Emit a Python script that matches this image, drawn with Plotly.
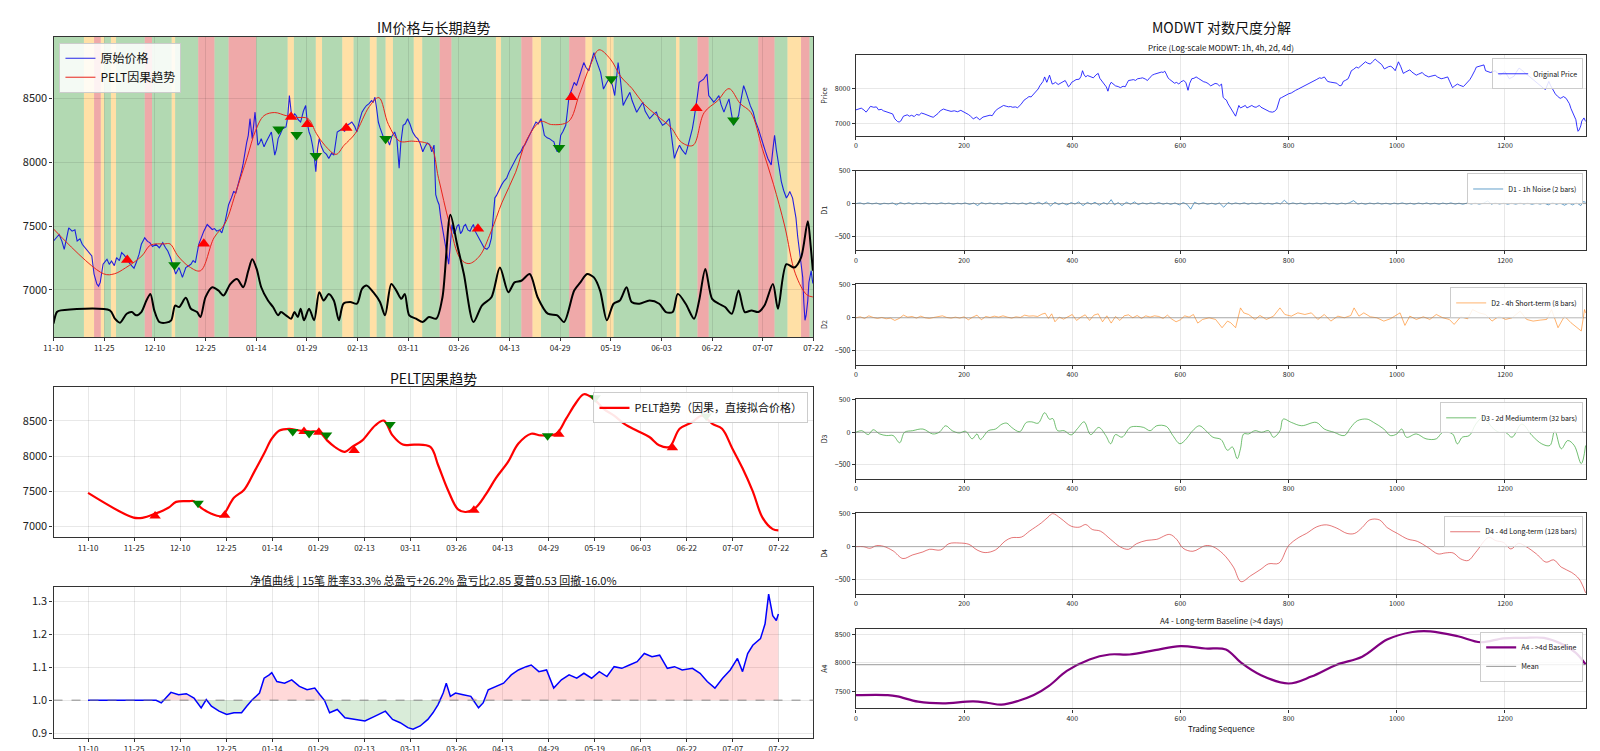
import numpy as np
import plotly.graph_objects as go

W, H = 1600, 751
FONT = "Noto Sans CJK SC"

# ---- x axis labels (trading index -> date) ----
date_ticks = [0, 90, 180, 270, 360, 450, 540, 630, 720, 810, 900, 990, 1080, 1170, 1260, 1350]
date_labels = ["11-10", "11-25", "12-10", "12-25", "01-14", "01-29", "02-13", "03-11",
               "03-26", "04-13", "04-29", "05-19", "06-03", "06-22", "07-07", "07-22"]

# ---- raw price ----
price_idx = [0, 5, 10, 15, 19, 23, 27, 33, 38, 42, 47, 51, 56, 60, 64, 68, 72, 77, 80, 83, 88, 92, 95, 99,
             103, 108, 112, 117, 121, 126, 130, 135, 139, 143, 147, 152, 156, 162, 167, 171, 176, 182, 188,
             194, 199, 203, 208, 212, 217, 223, 229, 235, 240, 244, 248, 252, 258, 263, 267, 273, 278, 282,
             286, 290, 295, 299, 305, 311, 316, 320, 324, 328, 334, 337, 340, 343, 346, 349, 353, 358, 363,
             366, 369, 374, 378, 383, 387, 390, 393, 396, 399, 403, 407, 413, 416, 419, 422, 425, 428, 431,
             435, 439, 444, 448, 451, 454, 457, 460, 463, 466, 469, 472, 476, 480, 485, 489, 494, 498, 501,
             504, 509, 513, 517, 521, 526, 530, 535, 539, 544, 548, 552, 556, 561, 565, 568, 571, 574, 577,
             580, 583, 586, 589, 593, 597, 601, 606, 610, 614, 617, 621, 625, 629, 633, 638, 643, 647, 651,
             656, 660, 664, 668, 672, 676, 679, 682, 685, 688, 691, 694, 697, 700, 702, 705, 708, 711, 714,
             717, 720, 723, 726, 729, 732, 736, 740, 743, 746, 749, 752, 756, 761, 765, 770, 774, 778, 781,
             784, 787, 790, 793, 796, 800, 805, 809, 813, 818, 822, 825, 830, 834, 837, 841, 846, 851, 857,
             861, 866, 869, 872, 877, 881, 885, 889, 892, 895, 898, 901, 905, 910, 913, 916, 920, 925, 929,
             933, 937, 942, 946, 951, 955, 960, 964, 968, 972, 977, 982, 985, 989, 993, 997, 1000, 1003,
             1007, 1012, 1016, 1020, 1024, 1028, 1032, 1036, 1040, 1044, 1047, 1051, 1055, 1059, 1063, 1067,
             1071, 1075, 1079, 1082, 1086, 1090, 1094, 1098, 1103, 1107, 1112, 1116, 1120, 1123, 1126, 1130,
             1135, 1138, 1141, 1144, 1147, 1151, 1155, 1158, 1161, 1164, 1168, 1173, 1177, 1182, 1186, 1191,
             1195, 1200, 1204, 1208, 1212, 1217, 1221, 1226, 1230, 1234, 1238, 1243, 1247, 1252, 1256, 1261,
             1265, 1269, 1272, 1275, 1278, 1281, 1284, 1287, 1290, 1293, 1297, 1302, 1305, 1308, 1311, 1313,
             1316, 1319, 1322, 1325, 1328, 1331, 1333, 1335, 1337, 1340, 1342, 1344, 1346, 1348, 1349]
price_val = [7383, 7410, 7434, 7380, 7318, 7400, 7486, 7460, 7470, 7383, 7400, 7357, 7330, 7305, 7290, 7266,
             7124, 7046, 7030, 7059, 7201, 7220, 7240, 7200, 7227, 7190, 7253, 7230, 7292, 7270, 7240, 7210,
             7189, 7170, 7214, 7280, 7357, 7408, 7380, 7370, 7340, 7357, 7330, 7370, 7330, 7305, 7250, 7201,
             7124, 7175, 7098, 7175, 7190, 7201, 7230, 7214, 7357, 7420, 7460, 7512, 7490, 7473, 7480, 7460,
             7470, 7447, 7538, 7667, 7720, 7770, 7760, 7822, 7926, 7990, 8081, 8150, 8210, 8340, 8184, 8391,
             8133, 8150, 8184, 8120, 8159, 8200, 8236, 8150, 8055, 8100, 8184, 8220, 8262, 8275, 8350, 8521,
             8400, 8340, 8380, 8365, 8330, 8314, 8400, 8443, 8300, 8236, 8200, 8133, 8050, 7926, 8100, 8184,
             8120, 8081, 8060, 8029, 8070, 8055, 8150, 8236, 8250, 8262, 8240, 8288, 8300, 8314, 8280, 8236,
             8330, 8391, 8420, 8443, 8460, 8482, 8470, 8508, 8420, 8314, 8270, 8236, 8200, 8159, 8180, 8133,
             8200, 8236, 8180, 7952, 8150, 8288, 8300, 8340, 8300, 8236, 8200, 8184, 8150, 8081, 8120, 8150,
             8140, 8081, 8133, 7745, 7700, 7667, 7560, 7486, 7420, 7357, 7280, 7201, 7357, 7512, 7440, 7460,
             7500, 7512, 7440, 7460, 7500, 7512, 7470, 7460, 7490, 7512, 7460, 7434, 7400, 7357, 7330, 7318,
             7340, 7408, 7600, 7719, 7740, 7770, 7790, 7822, 7850, 7874, 7920, 7952, 7990, 8020, 8055, 8080,
             8120, 8133, 8170, 8210, 8260, 8314, 8300, 8340, 8280, 8210, 8190, 8184, 8170, 8159, 8110, 8081,
             8100, 8210, 8240, 8288, 8400, 8521, 8560, 8624, 8600, 8650, 8700, 8779, 8740, 8714, 8780, 8857,
             8800, 8753, 8700, 8572, 8620, 8640, 8650, 8600, 8521, 8650, 8779, 8650, 8443, 8480, 8520, 8546,
             8480, 8430, 8391, 8420, 8450, 8469, 8400, 8370, 8340, 8360, 8380, 8391, 8340, 8310, 8288, 8300,
             8320, 8340, 8200, 8029, 8080, 8133, 8100, 8081, 8060, 8107, 8170, 8262, 8340, 8417, 8520, 8624,
             8640, 8650, 8670, 8689, 8521, 8500, 8469, 8490, 8521, 8450, 8391, 8440, 8495, 8390, 8288, 8320,
             8365, 8480, 8598, 8550, 8495, 8440, 8391, 8320, 8262, 8200, 8133, 8080, 8029, 8000, 7978, 8100,
             8210, 8100, 8003, 7920, 7848, 7780, 7719, 7740, 7770, 7740, 7719, 7640, 7564, 7420, 7305, 7200,
             7098, 6900, 6762, 6800, 6917, 7060, 7120, 7150, 7080, 7050]

# ---- PELT causal trend ----
trend_idx = [0, 89, 108, 128, 157, 172, 197, 207, 221, 241, 261, 285, 305, 325, 344, 359, 374, 393, 413,
             433, 452, 467, 482, 502, 516, 536, 561, 578, 595, 615, 639, 669, 684, 703, 723, 738, 757, 777,
             797, 821, 841, 866, 885, 915, 934, 954, 969, 989, 1008, 1028, 1048, 1072, 1097, 1116, 1136,
             1156, 1180, 1200, 1220, 1239, 1259, 1279, 1299, 1318, 1338, 1349]
trend_val = [7477, 7126, 7126, 7173, 7266, 7350, 7360, 7360, 7266, 7182, 7150, 7407, 7523, 7780, 8037,
             8248, 8364, 8388, 8364, 8350, 8341, 8224, 8131, 8061, 8131, 8224, 8435, 8505, 8294, 8164,
             8164, 8131, 7874, 7523, 7243, 7206, 7266, 7453, 7687, 7921, 8178, 8318, 8294, 8318, 8528,
             8762, 8879, 8808, 8668, 8575, 8458, 8364, 8271, 8154, 8131, 8388, 8481, 8575, 8458, 8388,
             8108, 7827, 7500, 7126, 6963, 6945]

# ---- trade signals: 1 = long (red up), -1 = short (green down) ----
sig_idx = [131, 215, 267, 400, 422, 432, 451, 466, 520, 590, 754, 898, 920, 991, 1142, 1208]
sig_dir = [1, -1, 1, -1, 1, -1, 1, -1, 1, -1, 1, -1, 1, -1, 1, -1]
sig_price = [7234, 7196, 7362, 8257, 8353, 8215, 8296, 8050, 8267, 8184, 7478, 8112, 8508, 8650, 8422, 8327]
sig_trend = [7150, 7330, 7160, 8350, 8350, 8320, 8340, 8300, 8080, 8450, 7230, 8290, 8310, 8830, 8120, 8570]

# ---- regime oscillator (black line, in price units) ----
osc_idx = [0, 6, 13, 100, 109, 118, 130, 139, 147, 156, 165, 172, 179, 188, 200, 209, 216, 223, 235, 244,
           255, 261, 270, 282, 293, 302, 314, 326, 337, 346, 353, 361, 369, 381, 390, 399, 404, 413, 422,
           428, 434, 439, 445, 454, 463, 472, 480, 489, 498, 507, 515, 527, 539, 548, 556, 568, 580, 589,
           600, 609, 618, 624, 632, 644, 656, 667, 680, 691, 705, 717, 729, 746, 761, 778, 793, 808, 819,
           831, 846, 860, 878, 895, 907, 925, 936, 948, 960, 971, 983, 995, 1006, 1018, 1027, 1041, 1059,
           1076, 1088, 1100, 1109, 1123, 1138, 1147, 1158, 1170, 1182, 1193, 1205, 1217, 1228, 1240, 1252,
           1263, 1278, 1287, 1302, 1316, 1328, 1340, 1345, 1349]
osc_val = [6736, 6827, 6840, 6840, 6775, 6744, 6814, 6827, 6801, 6827, 6917, 6969, 6840, 6749, 6744, 6762,
           6878, 6866, 6938, 6853, 6827, 6788, 6943, 7021, 6995, 6956, 7046, 7085, 7021, 7150, 7240, 7163,
           7021, 6917, 6866, 6801, 6827, 6801, 6775, 6827, 6788, 6853, 6762, 6853, 6762, 6982, 6917, 6969,
           6917, 6762, 6892, 6905, 6892, 7008, 7034, 6982, 6905, 6801, 7046, 6995, 6930, 6969, 6801, 6775,
           6749, 6788, 6775, 6943, 7589, 7357, 7124, 6749, 6878, 6943, 7175, 6982, 7059, 7072, 7124, 6943,
           6814, 6801, 6749, 6995, 7059, 7124, 7098, 6995, 6762, 6892, 6917, 7021, 6905, 6892, 6917, 6892,
           6827, 6827, 6969, 6892, 6775, 6917, 7163, 6930, 6892, 6866, 6814, 6995, 6827, 6840, 6827, 6878,
           7046, 6853, 7201, 7175, 7253, 7538, 7350, 7150]

# ---- regime bands: 0 = trend up (green), 1 = range (orange), 2 = trend down (red) ----
band_start = [0, 54, 72, 84, 90, 102, 111, 162, 175, 210, 216, 257, 286, 311, 360, 416, 427, 466, 477, 513,
              533, 562, 574, 590, 603, 640, 655, 686, 707, 786, 795, 831, 851, 866, 916, 945, 957, 983, 995,
              1106, 1112, 1144, 1164, 1252, 1281, 1304, 1328, 1343]
band_end = [54, 72, 84, 90, 102, 111, 162, 175, 210, 216, 257, 286, 311, 360, 416, 427, 466, 477, 513, 533,
            562, 574, 590, 603, 640, 655, 686, 707, 786, 795, 831, 851, 866, 916, 945, 957, 983, 995, 1106,
            1112, 1144, 1164, 1252, 1281, 1304, 1328, 1343, 1350]
band_regime = [0, 1, 2, 1, 0, 1, 0, 2, 0, 1, 0, 2, 0, 2, 0, 1, 0, 1, 0, 1, 0, 1, 0, 1, 0, 1, 0, 2, 0, 1, 0, 2,
               1, 0, 2, 1, 0, 1, 0, 1, 0, 2, 0, 2, 0, 1, 2, 0]

# ---- equity curve ----
eq_idx = [0, 133, 143, 152, 162, 177, 192, 207, 221, 231, 241, 256, 271, 285, 300, 310, 320, 335, 344, 354,
          359, 369, 384, 398, 413, 428, 443, 453, 462, 472, 487, 502, 521, 541, 561, 581, 595, 610, 625, 635,
          649, 664, 674, 684, 694, 700, 708, 718, 733, 748, 763, 772, 782, 797, 812, 827, 841, 856, 866, 881,
          896, 910, 925, 940, 955, 969, 984, 999, 1014, 1028, 1043, 1058, 1073, 1087, 1102, 1117, 1132, 1146,
          1161, 1181, 1196, 1210, 1225, 1240, 1255, 1269, 1279, 1289, 1299, 1314, 1323, 1330, 1338, 1345, 1349]
eq_val = [1.000, 1.000, 0.992, 1.007, 1.024, 1.017, 1.020, 1.007, 0.977, 1.002, 0.982, 0.967, 0.957, 0.962,
          0.962, 0.982, 1.000, 1.022, 1.067, 1.077, 1.084, 1.057, 1.052, 1.062, 1.042, 1.032, 1.037, 1.017,
          1.000, 0.962, 0.972, 0.947, 0.942, 0.937, 0.952, 0.967, 0.942, 0.932, 0.917, 0.912, 0.922, 0.942,
          0.962, 0.987, 1.022, 1.052, 1.012, 1.022, 1.017, 1.012, 0.977, 0.992, 1.032, 1.042, 1.052, 1.077,
          1.092, 1.102, 1.107, 1.087, 1.092, 1.037, 1.062, 1.077, 1.067, 1.082, 1.067, 1.087, 1.072, 1.102,
          1.097, 1.107, 1.117, 1.142, 1.132, 1.137, 1.097, 1.102, 1.092, 1.097, 1.082, 1.057, 1.037, 1.067,
          1.092, 1.127, 1.087, 1.142, 1.167, 1.187, 1.232, 1.322, 1.257, 1.242, 1.262]
equity_title = "净值曲线 | 15笔 胜率33.3% 总盈亏+26.2% 盈亏比2.85 夏普0.53 回撤-16.0%"

# ---- MODWT details ----
d1_idx = [0, 8, 15, 22, 30, 38, 45, 52, 60, 68, 75, 82, 90, 98, 105, 112, 120, 128, 135, 142, 150, 158, 165,
          172, 180, 188, 195, 202, 210, 218, 225, 232, 240, 248, 255, 262, 270, 278, 285, 292, 300, 308, 315,
          322, 330, 338, 345, 352, 360, 368, 375, 382, 390, 398, 405, 412, 420, 428, 435, 442, 450, 458, 465,
          472, 478, 485, 492, 500, 508, 515, 522, 530, 538, 545, 552, 560, 568, 575, 582, 590, 598, 605, 612,
          619, 626, 634, 642, 650, 658, 665, 672, 680, 688, 695, 702, 710, 718, 725, 732, 740, 748, 755, 762,
          770, 778, 785, 792, 800, 808, 815, 822, 830, 838, 845, 852, 860, 868, 875, 882, 890, 898, 905, 912,
          920, 928, 935, 942, 950, 958, 965, 972, 980, 988, 995, 1002, 1010, 1018, 1025, 1032, 1040, 1048,
          1055, 1062, 1070, 1078, 1085, 1092, 1100, 1108, 1115, 1122, 1130, 1138, 1145, 1152, 1160, 1168,
          1175, 1182, 1190, 1198, 1205, 1212, 1220, 1228, 1235, 1242, 1250, 1258, 1265, 1272, 1280, 1288,
          1295, 1302, 1310, 1318, 1325, 1332, 1340, 1345, 1349]
d1_val = [0, 10, -8, 12, -5, 8, -12, 6, -4, 10, -20, 15, -6, 12, -10, 8, -4, 10, -8, 5, -6, 12, -4, 8, -10,
          6, -5, 10, -12, 8, -30, 15, -6, 10, -8, 6, -10, 12, -5, 8, -6, 10, -12, 15, -8, 20, -10, 25, -35, 20,
          -15, 10, -20, 15, -8, 25, -30, 18, -10, 20, -25, 15, -12, 60, -20, 15, -30, 20, -10, 25, -15, 10, -8,
          12, -6, 15, -10, 8, -12, 10, -20, 15, -10, -85, 20, -8, 12, -10, 6, -12, 10, -55, 15, -8, 10, -6, 12,
          -10, 8, -5, 10, -8, 6, -10, 12, -6, 50, -8, 10, -6, 8, -10, 6, -5, 8, -6, 10, -8, 6, -10, 8, -6, 10,
          45, -8, 6, -10, 8, -6, 10, -8, 6, -10, 8, -6, 10, -8, 6, -10, 8, -6, 10, -8, 6, -10, 8, -6, 10, -8, 6,
          -10, 8, -6, 10, -8, 6, 40, -8, 10, -6, 8, -10, 6, -8, 10, -6, 8, -10, 6, -8, 10, -20, 15, -10, 8, -25,
          10, -20, 15, -30, 30, 20]

d2_idx = [0, 8, 16, 24, 32, 40, 48, 56, 64, 72, 80, 88, 96, 104, 112, 120, 128, 136, 144, 152, 160, 168, 176,
          184, 192, 200, 208, 216, 224, 232, 240, 248, 256, 264, 272, 280, 288, 296, 304, 312, 320, 328, 336,
          344, 350, 356, 362, 368, 376, 384, 392, 400, 408, 416, 424, 432, 440, 448, 456, 464, 472, 480, 488,
          496, 504, 512, 520, 528, 536, 544, 552, 560, 568, 576, 584, 592, 600, 608, 616, 624, 632, 641, 653,
          665, 677, 687, 693, 702, 711, 717, 726, 738, 747, 759, 772, 784, 793, 805, 817, 830, 842, 854, 866,
          878, 891, 903, 915, 921, 930, 939, 951, 963, 976, 988, 1006, 1015, 1024, 1036, 1049, 1061, 1073,
          1085, 1097, 1106, 1118, 1131, 1140, 1152, 1164, 1176, 1189, 1201, 1213, 1228, 1240, 1252, 1265,
          1277, 1286, 1298, 1310, 1322, 1341, 1347, 1349]
d2_val = [0, 15, -10, 30, 5, -10, 5, -15, -5, -40, -10, 40, 10, 20, -5, 25, 0, -10, 5, 15, 30, 5, -5, 10, -5,
          15, -30, 10, 40, -30, 20, 5, 25, 10, 30, 10, -5, 15, 5, 40, 25, 30, 20, 55, 70, -10, 60, -60, 10, -20,
          20, 50, -40, 10, 45, -40, 40, 60, -60, 30, -80, 20, -40, 30, 45, 0, 35, -10, 30, 10, 30, 20, -10, 40,
          -20, -60, -30, 30, 10, 50, -80, -25, 0, -25, -150, -50, -75, -150, 150, 75, 50, -25, 35, -25, 25, 150,
          50, 25, 75, 50, 75, -25, 50, -50, 25, 0, 35, 150, 25, 75, 15, 0, -50, -15, 75, -115, 25, -25, 15, -25,
          50, 0, -25, -100, 15, -15, 125, 75, 50, -50, 25, -25, 0, 100, -25, -50, -35, -25, 125, -150, 25, -75,
          -200, 125, 75]

d3_idx = [0, 11, 23, 32, 44, 57, 69, 81, 90, 105, 124, 142, 154, 166, 178, 191, 203, 215, 224, 230, 245, 258,
          270, 279, 288, 303, 315, 325, 337, 349, 358, 364, 373, 385, 398, 410, 422, 434, 449, 462, 471, 480,
          492, 507, 519, 532, 544, 556, 574, 586, 599, 611, 620, 635, 647, 660, 675, 687, 696, 705, 711, 717,
          726, 738, 750, 763, 772, 784, 790, 805, 824, 851, 866, 884, 903, 915, 927, 945, 957, 976, 988, 1000,
          1009, 1018, 1036, 1054, 1073, 1085, 1103, 1112, 1121, 1134, 1146, 1158, 1164, 1176, 1189, 1201,
          1213, 1231, 1250, 1268, 1283, 1292, 1304, 1316, 1328, 1341, 1349]
d3_val = [0, 25, -35, 40, -25, -50, -50, -160, 0, 25, 50, -25, 0, 100, 25, -10, 15, -100, -25, -110, 25, 50,
          125, 140, 75, 10, 150, 160, 140, 300, 200, 210, 25, 25, -40, 60, 160, -35, 75, -50, -175, -35, -75,
          75, 90, 75, 25, 100, 90, -50, -175, -100, 0, 100, 25, -75, -110, -275, -225, -404, -253, -25, -25,
          25, 0, 25, -76, 25, 202, 152, 101, 152, 50, 0, -50, 76, 177, 202, 152, 50, -50, -25, 50, -76, -25,
          -100, -100, 0, -25, -177, -76, -50, 126, 227, 212, 76, 0, 0, -76, 126, -50, -177, -202, 25, -253,
          -126, -202, -480, -202]

d4_idx = [0, 14, 26, 38, 51, 69, 87, 105, 124, 136, 157, 172, 191, 209, 224, 239, 258, 276, 288, 306, 321,
          343, 355, 364, 379, 398, 413, 425, 437, 452, 471, 489, 504, 519, 538, 556, 580, 593, 605, 623, 646,
          660, 679, 698, 712, 730, 749, 763, 782, 800, 819, 833, 852, 870, 889, 908, 922, 936, 950, 968, 982,
          1001, 1020, 1038, 1057, 1076, 1090, 1104, 1118, 1132, 1146, 1170, 1183, 1197, 1211, 1225, 1239,
          1258, 1276, 1290, 1304, 1323, 1337, 1349]
d4_val = [0, 0, -25, 15, 5, -65, -180, -125, -80, -40, -50, 45, 55, 35, -50, -90, -50, 85, 135, 145, 235, 360,
          445, 500, 425, 310, 295, 335, 260, 235, 110, -5, -40, 45, 95, 110, 185, 110, -25, -70, 15, 0, -110,
          -310, -530, -440, -340, -260, -250, 15, 140, 200, 300, 330, 280, 200, 200, 290, 405, 405, 290, 200,
          115, 80, -10, -110, -95, -95, -185, -210, -85, 140, 90, 65, -35, 50, 0, -110, -235, -200, -310, -390,
          -490, -700]

a4_idx = [0, 59, 77, 115, 161, 217, 245, 269, 301, 329, 357, 390, 432, 469, 506, 553, 600, 646, 684, 712, 749,
          800, 842, 889, 936, 982, 1029, 1062, 1113, 1155, 1197, 1234, 1272, 1307, 1331, 1349]
a4_val = [7430, 7430, 7407, 7314, 7285, 7320, 7291, 7262, 7331, 7430, 7593, 7855, 8058, 8145, 8145, 8221, 8291,
          8250, 8233, 8000, 7779, 7634, 7756, 7965, 8105, 8407, 8541, 8552, 8465, 8360, 8430, 8436, 8436, 8320,
          8174, 7971]
a4_mean = 7965

right_ticks = [0, 200, 400, 600, 800, 1000, 1200]

# ---- layout helpers (pixel boxes -> paper domains) ----
def xdom(x0, x1):
    return [x0 / W, x1 / W]

def ydom(top, bottom):
    return [1 - bottom / H, 1 - top / H]

LEFT = xdom(36, 806)
RIGHT = xdom(849, 1589)

def axis(dom, size, **kw):
    d = dict(domain=dom, showline=True, mirror=True, linecolor="#333", linewidth=1.2,
             ticks="outside", ticklen=3, tickcolor="#333", tickfont=dict(size=size, color="#222"),
             showgrid=True, gridcolor="rgba(0,0,0,0.09)", zeroline=False)
    d.update(kw)
    return d

fig = go.Figure()

# ===== panel 1: price + trend + regimes =====
band_colors = ["rgba(0,128,0,0.3)", "rgba(255,165,0,0.35)", "rgba(214,39,40,0.4)"]
for s, e, r in zip(band_start, band_end, band_regime):
    fig.add_shape(type="rect", xref="x", yref="y domain", x0=s, x1=e, y0=0, y1=1,
                  fillcolor=band_colors[r], line_width=0, layer="below")

fig.add_trace(go.Scatter(x=price_idx, y=price_val, mode="lines", name="原始价格", legendrank=1,
                         line=dict(color="rgba(0,0,230,0.85)", width=1.1), xaxis="x", yaxis="y", legend="legend"))
fig.add_trace(go.Scatter(x=trend_idx, y=trend_val, mode="lines", name="PELT因果趋势", legendrank=2,
                         line=dict(color="#e8231b", width=1, shape="spline"), xaxis="x", yaxis="y", legend="legend"))
fig.add_trace(go.Scatter(x=osc_idx, y=osc_val, mode="lines", showlegend=False,
                         line=dict(color="black", width=2, shape="spline", smoothing=0.8), xaxis="x", yaxis="y"))

sig_idx = np.array(sig_idx)
sig_dir = np.array(sig_dir)
up, dn = sig_dir == 1, sig_dir == -1
fig.add_trace(go.Scatter(x=sig_idx[up], y=np.array(sig_price)[up], mode="markers", showlegend=False,
                         marker=dict(symbol="triangle-up", size=11, color="red"), xaxis="x", yaxis="y"))
fig.add_trace(go.Scatter(x=sig_idx[dn], y=np.array(sig_price)[dn], mode="markers", showlegend=False,
                         marker=dict(symbol="triangle-down", size=11, color="green"), xaxis="x", yaxis="y"))

# ===== panel 2: PELT trend =====
fig.add_trace(go.Scatter(x=trend_idx, y=trend_val, mode="lines", name="PELT趋势（因果，直接拟合价格）",
                         line=dict(color="red", width=2.2, shape="spline"), xaxis="x2", yaxis="y2", legend="legend2"))
fig.add_trace(go.Scatter(x=sig_idx[up], y=np.array(sig_trend)[up], mode="markers", showlegend=False,
                         marker=dict(symbol="triangle-up", size=10, color="red"), xaxis="x2", yaxis="y2"))
fig.add_trace(go.Scatter(x=sig_idx[dn], y=np.array(sig_trend)[dn], mode="markers", showlegend=False,
                         marker=dict(symbol="triangle-down", size=10, color="green"), xaxis="x2", yaxis="y2"))

# ===== panel 3: equity =====
eq = np.array(eq_val)
base = np.ones_like(eq)
fig.add_trace(go.Scatter(x=eq_idx, y=base, mode="lines", line=dict(width=0), showlegend=False,
                         hoverinfo="skip", xaxis="x3", yaxis="y3"))
fig.add_trace(go.Scatter(x=eq_idx, y=np.maximum(eq, 1), mode="lines", line=dict(width=0), fill="tonexty",
                         fillcolor="rgba(255,0,0,0.15)", showlegend=False, hoverinfo="skip", xaxis="x3", yaxis="y3"))
fig.add_trace(go.Scatter(x=eq_idx, y=base, mode="lines", line=dict(width=0), showlegend=False,
                         hoverinfo="skip", xaxis="x3", yaxis="y3"))
fig.add_trace(go.Scatter(x=eq_idx, y=np.minimum(eq, 1), mode="lines", line=dict(width=0), fill="tonexty",
                         fillcolor="rgba(0,128,0,0.15)", showlegend=False, hoverinfo="skip", xaxis="x3", yaxis="y3"))
fig.add_trace(go.Scatter(x=eq_idx, y=eq, mode="lines", showlegend=False,
                         line=dict(color="blue", width=1.5), xaxis="x3", yaxis="y3"))
fig.add_shape(type="line", xref="x3 domain", yref="y3", x0=0, x1=1, y0=1.0, y1=1.0,
              line=dict(color="rgba(128,128,128,0.6)", width=1.5, dash="dash"))

# ===== right column: MODWT =====
right_series = [
    ("x4", "y4", price_idx, price_val, "Original Price", "blue", 0.8),
    ("x5", "y5", d1_idx, d1_val, "D1 - 1h Noise (2 bars)", "#1f77b4", 0.7),
    ("x6", "y6", d2_idx, d2_val, "D2 - 4h Short-term (8 bars)", "rgba(255,127,14,0.75)", 0.8),
    ("x7", "y7", d3_idx, d3_val, "D3 - 2d Mediumterm (32 bars)", "rgba(44,160,44,0.75)", 0.9),
    ("x8", "y8", d4_idx, d4_val, "D4 - 4d Long-term (128 bars)", "rgba(214,39,40,0.7)", 0.9),
    ("x9", "y9", a4_idx, a4_val, "A4 - >4d Baseline", "purple", 2.2),
]
for i, (xa, ya, xs, ys, nm, col, lw) in enumerate(right_series):
    shape = "spline" if i in (3, 4, 5) else "linear"
    fig.add_trace(go.Scatter(x=xs, y=ys, mode="lines", name=nm, line=dict(color=col, width=lw, shape=shape),
                             xaxis=xa, yaxis=ya, legend="legend%d" % (i + 3), legendrank=1))
    if 1 <= i <= 4:
        fig.add_shape(type="line", xref="%s domain" % xa, yref=ya, x0=0, x1=1, y0=0, y1=0,
                      line=dict(color="rgba(128,128,128,0.6)", width=1))
fig.add_trace(go.Scatter(x=[a4_idx[0], a4_idx[-1]], y=[a4_mean, a4_mean], mode="lines", name="Mean",
                         line=dict(color="rgba(128,128,128,0.8)", width=1), xaxis="x9", yaxis="y9",
                         legend="legend8", legendrank=2))

# ---- axes ----
layout_axes = dict(
    xaxis=axis(LEFT, 8, anchor="y", range=[0, 1350], tickvals=date_ticks, ticktext=date_labels),
    yaxis=axis(ydom(24, 327), 11, anchor="x", range=[6632, 8981], tickvals=[7000, 7500, 8000, 8500]),
    xaxis2=axis(LEFT, 8, anchor="y2", range=[-67.5, 1417.5], tickvals=date_ticks, ticktext=date_labels),
    yaxis2=axis(ydom(378, 529), 11, anchor="x2", range=[6850, 8975], tickvals=[7000, 7500, 8000, 8500]),
    xaxis3=axis(LEFT, 8, anchor="y3", range=[-67.5, 1417.5], tickvals=date_ticks, ticktext=date_labels),
    yaxis3=axis(ydom(579, 732), 11, anchor="x3", range=[0.885, 1.345], tickvals=[0.9, 1.0, 1.1, 1.2, 1.3],
                tickformat=".1f"),
)
right_boxes = [(42.7, 124), (159, 239.3), (274, 355), (390, 470), (505, 586), (621.7, 702)]
right_names = ["Price", "D1", "D2", "D3", "D4", "A4"]
for i, (top, bot) in enumerate(right_boxes):
    n = i + 4
    layout_axes["xaxis%d" % n] = axis(RIGHT, 7, anchor="y%d" % n, range=[0, 1350], tickvals=right_ticks)
    if i == 0:
        yk = dict(range=[6630, 8968], tickvals=[7000, 8000])
    elif i == 5:
        yk = dict(range=[7195, 8595], tickvals=[7500, 8000, 8500])
    else:
        yk = dict(range=[-710, 505], tickvals=[-500, 0, 500])
    layout_axes["yaxis%d" % n] = axis(ydom(top, bot), 7, anchor="x%d" % n,
                                      title=dict(text=right_names[i], font=dict(size=7), standoff=6), **yk)

fig.update_layout(**layout_axes)

# ---- legends ----
legends = dict(
    legend=dict(x=42 / W, y=1 - 30 / H, xanchor="left", yanchor="top", font=dict(size=12, color="#111"),
                bgcolor="rgba(255,255,255,0.85)", bordercolor="#ccc", borderwidth=1, itemwidth=30,
                traceorder="normal"),
    legend2=dict(x=801 / W, y=1 - 383 / H, xanchor="right", yanchor="top", font=dict(size=11, color="#111"),
                 bgcolor="rgba(255,255,255,0.9)", bordercolor="#ccc", borderwidth=1, itemwidth=30),
)
for i, (top, bot) in enumerate(right_boxes):
    legends["legend%d" % (i + 3)] = dict(x=1586 / W, y=1 - (top + 3) / H, xanchor="right", yanchor="top",
                                         font=dict(size=7, color="#111"), bgcolor="rgba(255,255,255,0.85)",
                                         bordercolor="#ccc", borderwidth=1, itemwidth=30, tracegroupgap=0,
                                         traceorder="normal")
fig.update_layout(**legends)

# ---- titles ----
titles = [
    (421, 14, "IM价格与长期趋势", 14),
    (421, 368, "PELT因果趋势", 14),
    (421, 572, equity_title, 11),
    (1219, 14, "MODWT 对数尺度分解", 14),
    (1219, 35, "Price (Log-scale MODWT: 1h, 4h, 2d, 4d)", 8),
    (1219, 613, "A4 - Long-term Baseline (>4 days)", 8),
    (1219, 722, "Trading Sequence", 8),
]
for x, y, t, s in titles:
    fig.add_annotation(x=x / W, y=1 - y / H, xref="paper", yref="paper", text=t, showarrow=False,
                       font=dict(size=s, color="#111"), xanchor="center", yanchor="middle")

fig.update_layout(width=W, height=H, margin=dict(l=0, r=0, t=0, b=0),
                  paper_bgcolor="white", plot_bgcolor="white",
                  font=dict(family=FONT, color="#222"), showlegend=True)

fig.write_html("out.html")
